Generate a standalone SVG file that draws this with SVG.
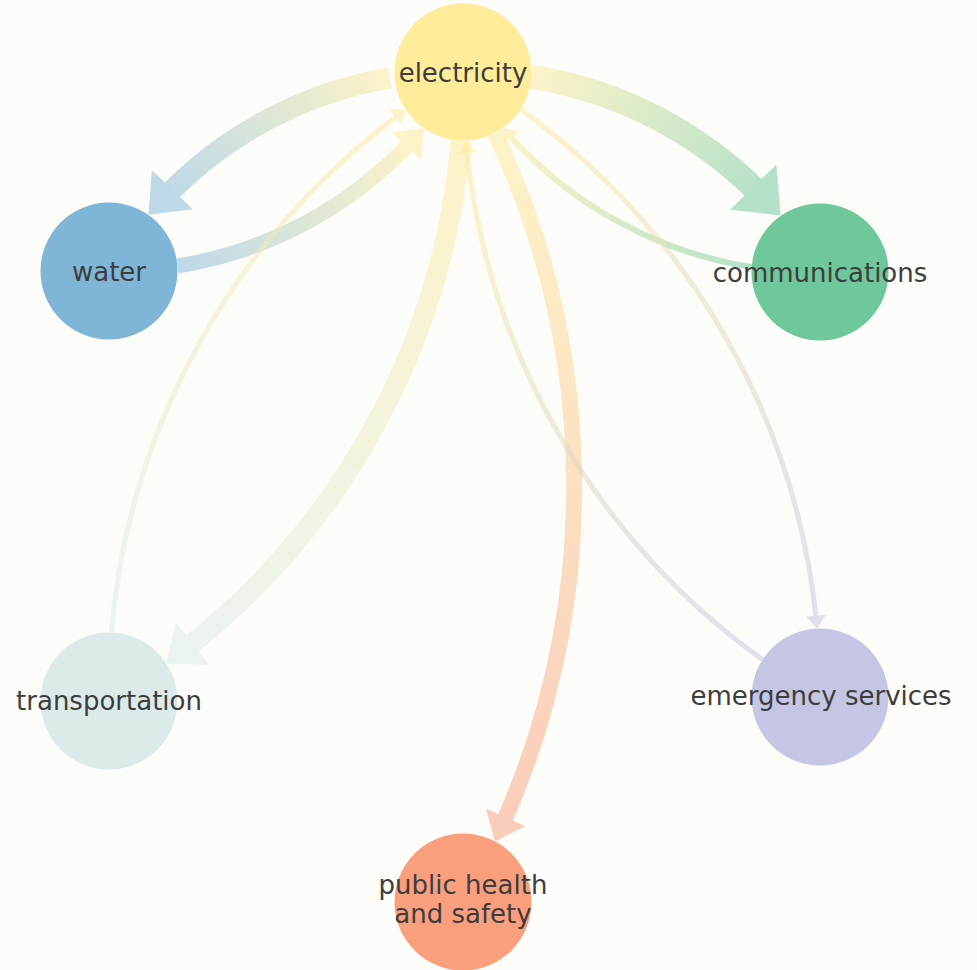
<svg xmlns="http://www.w3.org/2000/svg" width="977" height="970" viewBox="0 0 977 970">
<style>
  .bg { fill: #fcfcf8; }
  .link { fill: none; opacity: 0.5; stroke-linecap: butt; }
  .label { font-family: "DejaVu Sans", "Noto Sans", sans-serif; font-size: 26px; fill: #3d3d3d; text-anchor: middle; }
</style>
<defs>
  <marker id="ah-water" viewBox="0 0 16.5 27" markerWidth="1.65" markerHeight="2.7" refX="5" refY="13.5" orient="auto"><path d="M0,0 L16.5,13.5 L0,27 Z" fill="#7fb6d8"/></marker>
  <marker id="ah-elec" viewBox="0 0 16.5 27" markerWidth="1.65" markerHeight="2.7" refX="5" refY="13.5" orient="auto"><path d="M0,0 L16.5,13.5 L0,27 Z" fill="#feec9a"/></marker>
  <marker id="ah-comm" viewBox="0 0 16.5 27" markerWidth="1.65" markerHeight="2.7" refX="5" refY="13.5" orient="auto"><path d="M0,0 L16.5,13.5 L0,27 Z" fill="#6fc79c"/></marker>
  <marker id="ah-trans" viewBox="0 0 16.5 27" markerWidth="1.65" markerHeight="2.7" refX="5" refY="13.5" orient="auto"><path d="M0,0 L16.5,13.5 L0,27 Z" fill="#dcebea"/></marker>
  <marker id="ah-ph" viewBox="0 0 16.5 27" markerWidth="1.65" markerHeight="2.7" refX="5" refY="13.5" orient="auto"><path d="M0,0 L16.5,13.5 L0,27 Z" fill="#f99f7e"/></marker>
  <marker id="ah-elec-thin" viewBox="0 0 13 20" markerUnits="userSpaceOnUse" markerWidth="13" markerHeight="20" refX="4" refY="10" orient="auto"><path d="M0,0 L13,10 L0,20 Z" fill="#feec9a"/></marker>
  <marker id="ah-emerg-thin" viewBox="0 0 13 20" markerUnits="userSpaceOnUse" markerWidth="13" markerHeight="20" refX="4" refY="10" orient="auto"><path d="M0,0 L13,10 L0,20 Z" fill="#c5c6e3"/></marker>

  <linearGradient id="g-el-wa" gradientUnits="userSpaceOnUse" x1="390" y1="78" x2="165" y2="197"><stop offset="0" stop-color="#feec9a"/><stop offset="1" stop-color="#7fb6d8"/></linearGradient>
  <linearGradient id="g-wa-el" gradientUnits="userSpaceOnUse" x1="177" y1="266" x2="412" y2="141"><stop offset="0" stop-color="#7fb6d8"/><stop offset="1" stop-color="#feec9a"/></linearGradient>
  <linearGradient id="g-el-co" gradientUnits="userSpaceOnUse" x1="531" y1="77" x2="761" y2="196"><stop offset="0" stop-color="#feec9a"/><stop offset="1" stop-color="#6fc79c"/></linearGradient>
  <linearGradient id="g-co-el" gradientUnits="userSpaceOnUse" x1="752" y1="267" x2="509" y2="134"><stop offset="0" stop-color="#6fc79c"/><stop offset="1" stop-color="#feec9a"/></linearGradient>
  <linearGradient id="g-el-tr" gradientUnits="userSpaceOnUse" x1="461" y1="140" x2="185" y2="650"><stop offset="0" stop-color="#feec9a"/><stop offset="1" stop-color="#dcebea"/></linearGradient>
  <linearGradient id="g-tr-el" gradientUnits="userSpaceOnUse" x1="111" y1="632" x2="398" y2="115"><stop offset="0" stop-color="#dcebea"/><stop offset="1" stop-color="#feec9a"/></linearGradient>
  <linearGradient id="g-el-ph" gradientUnits="userSpaceOnUse" x1="495" y1="133" x2="502" y2="825"><stop offset="0" stop-color="#feec9a"/><stop offset="1" stop-color="#f99f7e"/></linearGradient>
  <linearGradient id="g-el-em" gradientUnits="userSpaceOnUse" x1="520" y1="109" x2="816" y2="620"><stop offset="0" stop-color="#feec9a"/><stop offset="1" stop-color="#c5c6e3"/></linearGradient>
  <linearGradient id="g-em-el" gradientUnits="userSpaceOnUse" x1="762" y1="660" x2="467" y2="149"><stop offset="0" stop-color="#c5c6e3"/><stop offset="1" stop-color="#feec9a"/></linearGradient>
</defs>

<rect class="bg" x="0" y="0" width="977" height="970"/>

<g id="connectors">
  <path id="e-el-wa" class="link" stroke="url(#g-el-wa)" stroke-width="21" marker-end="url(#ah-water)" d="M390,77.8 A406.1,406.1 0 0,0 165.1,197.2"/>
  <path id="e-wa-el" class="link" stroke="url(#g-wa-el)" stroke-width="15" marker-end="url(#ah-elec)" d="M177.4,266 A406.1,406.1 0 0,0 411.7,140.8"/>
  <path id="e-el-co" class="link" stroke="url(#g-el-co)" stroke-width="24" marker-end="url(#ah-comm)" d="M531.3,76.9 A409.2,409.2 0 0,1 761.5,195.7"/>
  <path id="e-co-el" class="link" stroke="url(#g-co-el)" stroke-width="6" marker-end="url(#ah-elec-thin)" d="M751.7,267.1 A409.2,409.2 0 0,1 508.7,134.5"/>
  <path id="e-el-tr" class="link" stroke="url(#g-el-tr)" stroke-width="20" marker-end="url(#ah-trans)" d="M460.6,140.5 A721.8,721.8 0 0,1 184.6,649.5"/>
  <path id="e-tr-el" class="link" stroke="url(#g-tr-el)" stroke-width="5" marker-end="url(#ah-elec-thin)" d="M111.4,632.5 A721.8,721.8 0 0,1 398.5,115"/>
  <path id="e-el-ph" class="link" stroke="url(#g-el-ph)" stroke-width="16" marker-end="url(#ah-ph)" d="M494.8,132.7 A830,830 0 0,1 502.4,824.6"/>
  <path id="e-el-em" class="link" stroke="url(#g-el-em)" stroke-width="5" marker-end="url(#ah-emerg-thin)" d="M520.4,109.2 A719.8,719.8 0 0,1 816.3,619.6"/>
  <path id="e-em-el" class="link" stroke="url(#g-em-el)" stroke-width="5" marker-end="url(#ah-elec-thin)" d="M762.5,659.7 A719.8,719.8 0 0,1 466.7,149.4"/>
</g>

<g id="node-electricity">
  <circle cx="463" cy="72" r="68.5" fill="#feec9a"/>
  <text class="label" x="463" y="81.5">electricity</text>
</g>
<g id="node-water">
  <circle cx="109" cy="271" r="68.5" fill="#7fb6d8"/>
  <text class="label" x="109" y="280.5">water</text>
</g>
<g id="node-communications">
  <circle cx="820" cy="272" r="68.5" fill="#6fc79c"/>
  <text class="label" x="820" y="281.5">communications</text>
</g>
<g id="node-transportation">
  <circle cx="109" cy="701" r="68.5" fill="#dcebea"/>
  <text class="label" x="109" y="710">transportation</text>
</g>
<g id="node-emergency-services">
  <circle cx="820" cy="697" r="68.5" fill="#c5c6e3"/>
  <text class="label" x="821" y="705">emergency services</text>
</g>
<g id="node-public-health">
  <circle cx="463" cy="902" r="68.5" fill="#f99f7e"/>
  <text class="label" x="463" y="894">public health</text>
  <text class="label" x="463" y="923">and safety</text>
</g>
</svg>
